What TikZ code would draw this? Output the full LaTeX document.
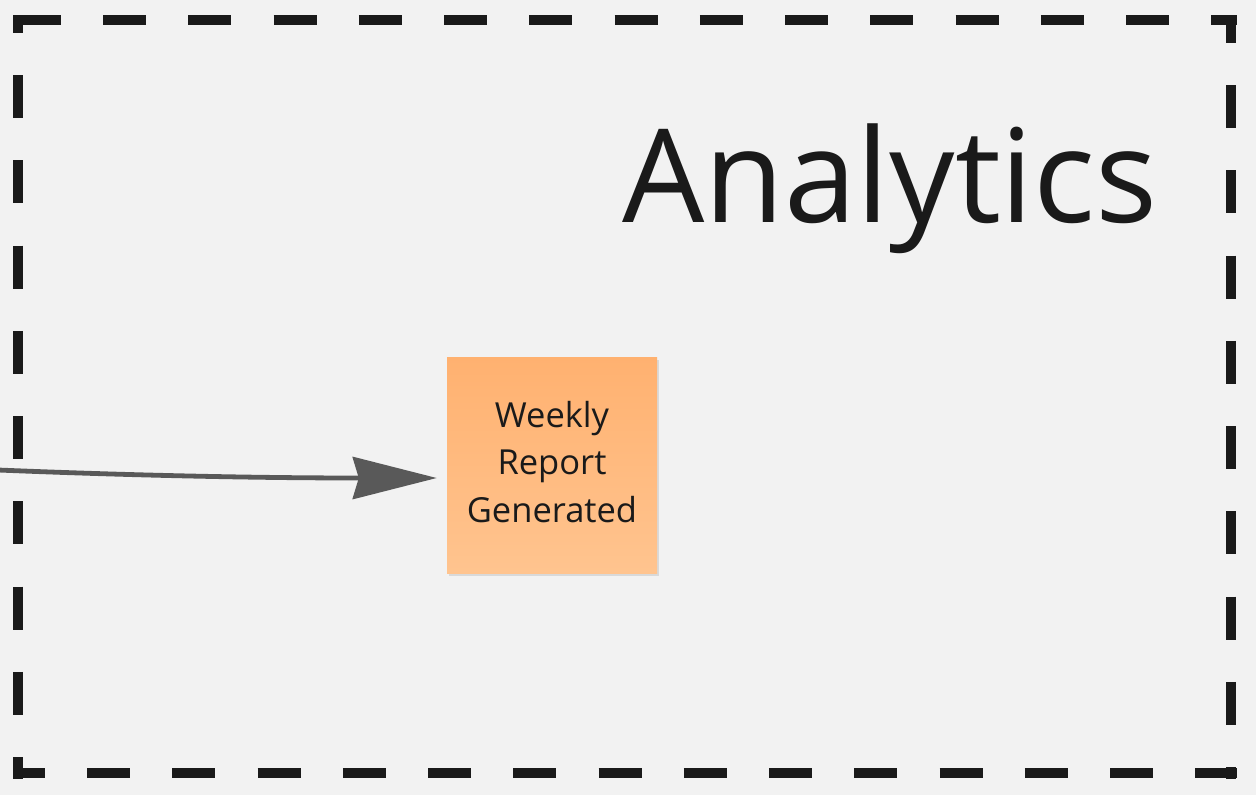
\documentclass[tikz,border=0pt]{standalone}
\usepackage{fontspec}
\setmainfont{Open Sans}
\usetikzlibrary{arrows.meta,calc,shadows}
\definecolor{bg}{HTML}{F2F2F2}
\definecolor{ink}{HTML}{1A1A1A}
\definecolor{arrowgray}{HTML}{595959}
\definecolor{notetop}{HTML}{FFB170}
\definecolor{notebot}{HTML}{FFC48F}
\tikzset{
  borderline/.style={draw=ink, line width=10pt, line cap=butt, dash pattern=on 43pt off 42.25pt},
  stickynote/.style={rectangle, inner sep=0pt, minimum width=210pt, minimum height=216pt,
    top color=notetop, bottom color=notebot, draw=none,
    drop shadow={shadow xshift=1.5pt, shadow yshift=-3pt, opacity=0.10, fill=black}},
  notetext/.style={align=center, text=ink, font=\fontsize{34.5}{47.5}\selectfont, inner sep=0pt},
  flowarrow/.style={draw=arrowgray, line width=4.8pt, -{Stealth[length=84pt, width=42pt, inset=6pt]}},
}
\begin{document}
\begin{tikzpicture}[x=1pt, y=-1pt]
\useasboundingbox (0,0) rectangle (1256,795);
\fill[bg] (0,0) rectangle (1256,795);
% dashed frame, side by side
\path[borderline, dash phase=80.5pt] (13,20) -- (1237,20);
\path[borderline, dash phase=15.25pt] (1231,15) -- (1231,779);
\path[borderline, dash phase=11.25pt] (13,773) -- (1237,773);
\path[borderline, dash phase=25.25pt] (18,15) -- (18,779);
% title
\node[anchor=base west, inner sep=0pt, text=ink, font=\fontsize{130}{156}\selectfont] (title) at (622,222) {Analytics};
% sticky note
\node[stickynote] (note) at (552,465) {};
\node[notetext] (notelabel) at (552,462) {Weekly\\Report\\Generated};
% connector
\coordinate (src) at (-2,470);
\draw[flowarrow] (src) .. controls (120,475) and (250,478) .. ($(note.west)+(-10,13)$);
\end{tikzpicture}
\end{document}
